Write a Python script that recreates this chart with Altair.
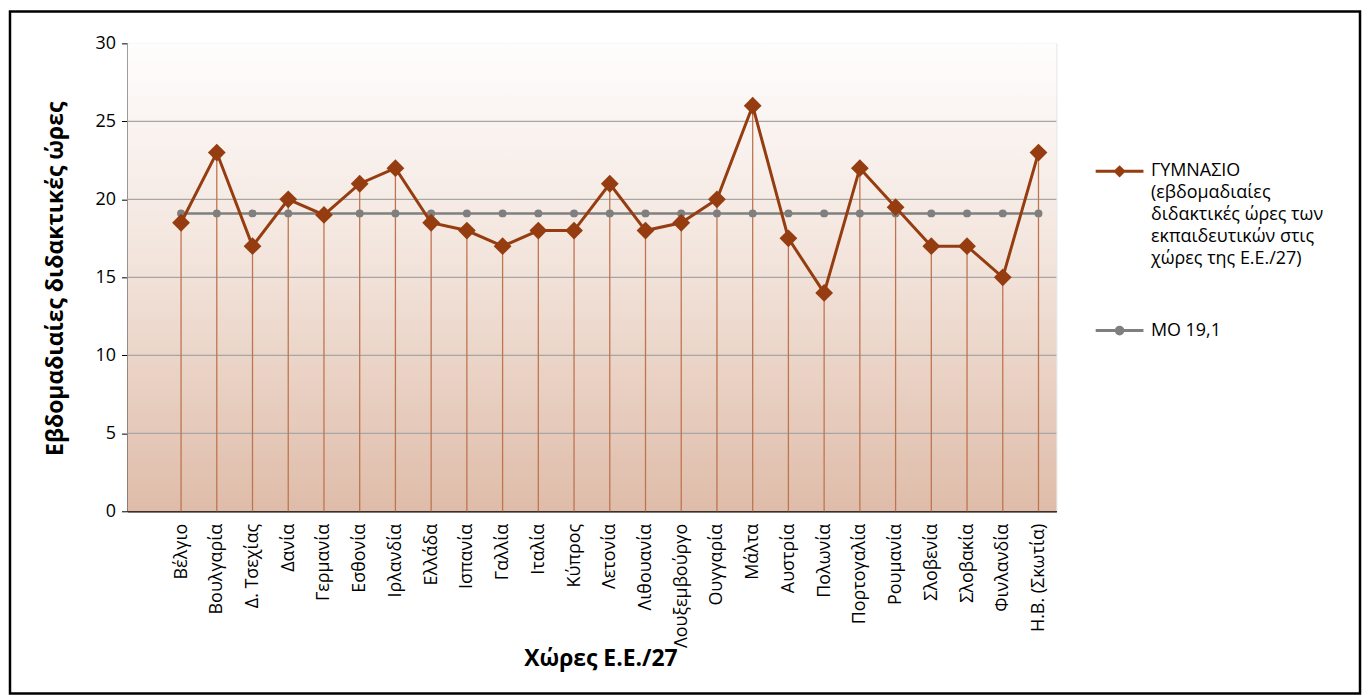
import altair as alt
import pandas as pd

countries = ["Βέλγιο", "Βουλγαρία", "Δ. Τσεχίας", "Δανία", "Γερμανία", "Εσθονία",
             "Ιρλανδία", "Ελλάδα", "Ισπανία", "Γαλλία", "Ιταλία", "Κύπρος", "Λετονία",
             "Λιθουανία", "Λουξεμβούργο", "Ουγγαρία", "Μάλτα", "Αυστρία", "Πολωνία",
             "Πορτογαλία", "Ρουμανία", "Σλοβενία", "Σλοβακία", "Φινλανδία", "Η.Β. (Σκωτία)"]
hours = [18.5, 23, 17, 20, 19, 21, 22, 18.5, 18, 17, 18, 18, 21,
         18, 18.5, 20, 26, 17.5, 14, 22, 19.5, 17, 17, 15, 23]
MO = 19.1
series_names = ["ΓΥΜΝΑΣΙΟ|(εβδομαδιαίες|διδακτικές ώρες των|εκπαιδευτικών στις|χώρες της Ε.Ε./27)",
                "ΜΟ 19,1"]
y_ticks = [0, 5, 10, 15, 20, 25, 30]
grid_vals = [5, 10, 15, 20, 25]

W, H = 933, 470
FONT = "Open Sans"
BROWN = "#953d10"
GRAY = "#7f7f7f"
DROP = "#bf7450"

df = pd.DataFrame({"country": countries, "hours": hours})
df["mo"] = MO

x_domain = [" "] + countries
xscale = alt.Scale(type="point", domain=x_domain, padding=0.5)
yscale = alt.Scale(domain=[0, 30], nice=False, zero=True)

xaxis = alt.Axis(labelAngle=-90, labelFont=FONT, labelFontSize=18, labelColor="#000",
                 labelPadding=12, ticks=False, domainColor="#000", domainWidth=1.5,
                 grid=False, titleFont=FONT, titleFontSize=23, titleFontWeight="bold",
                 titleColor="#000", titleX=475, titleY=148, titleBaseline="middle",
                 titleAlign="center", labelLimit=300)
yaxis = alt.Axis(values=y_ticks, labelFont=FONT, labelFontSize=18, labelColor="#000",
                 tickColor="#000", tickSize=6, domainColor="#000", domainWidth=1.5,
                 grid=False, labelPadding=6, titleFont=FONT, titleFontSize=23,
                 titleFontWeight="bold", titleColor="#000", titleX=-72, titleY=236,
                 titleBaseline="middle", titleAlign="center", titleAngle=-90)

XT = "Χώρες Ε.Ε./27"
YT = "Εβδομαδιαίες διδακτικές ώρες"


def xch():
    return alt.X("country:N", scale=xscale, sort=x_domain, axis=xaxis, title=XT)


def ych(field):
    return alt.Y(field, scale=yscale, axis=yaxis, title=YT)


one = alt.Data(values=[{}])

bg = alt.Chart(one).mark_rect(
    color=alt.LinearGradient(
        gradient="linear", x1=0, x2=0, y1=0, y2=1,
        stops=[alt.GradientStop(color="#fefdfd", offset=0),
               alt.GradientStop(color="#f3e5dd", offset=0.45),
               alt.GradientStop(color="#dfbca9", offset=1)])
).encode(x=alt.value(0), x2=alt.value(W), y=alt.value(0), y2=alt.value(H))

grid = alt.Chart(pd.DataFrame({"g": grid_vals})).mark_rule(
    color="#a6a6a6", strokeWidth=1.2
).encode(y=ych("g:Q"))

drops = alt.Chart(df).mark_rule(color=DROP, strokeWidth=1.3).encode(
    x=xch(), y=ych("hours:Q"), y2=alt.Y2(datum=0))

mo_line = alt.Chart(df).mark_line(color=GRAY, strokeWidth=2.5).encode(
    x=xch(), y=ych("mo:Q"))
mo_pts = alt.Chart(df).mark_point(shape="circle", filled=True, color=GRAY,
                                  opacity=1, size=64).encode(x=xch(), y=ych("mo:Q"))

h_line = alt.Chart(df).mark_line(color=BROWN, strokeWidth=3).encode(
    x=xch(), y=ych("hours:Q"))
h_pts = alt.Chart(df).mark_point(shape="diamond", filled=True, color=BROWN,
                                 opacity=1, size=320).encode(x=xch(), y=ych("hours:Q"))

diamond_path = "M-1,0L1,0M0,-0.17L0.17,0L0,0.17L-0.17,0Z"
circle_path = "M-1,0L1,0M0.14,0A0.14,0.14,0,1,1,-0.14,0A0.14,0.14,0,1,1,0.14,0Z"

leg = alt.Legend(orient="none", legendX=971, legendY=103, title=None,
                 labelExpr="split(datum.label, '|')", labelFont=FONT,
                 labelFontSize=18, labelColor="#000", labelLimit=400,
                 symbolSize=2304, symbolStrokeWidth=3, symbolOpacity=1,
                 labelOffset=6, rowPadding=37, labelBaseline="middle")

legend_df = pd.DataFrame({"series": series_names})
legend_layer = alt.Chart(legend_df).mark_point(filled=True, opacity=0).encode(
    shape=alt.Shape("series:N", scale=alt.Scale(domain=series_names,
                                                range=[diamond_path, circle_path]),
                    legend=leg),
    fill=alt.Fill("series:N", scale=alt.Scale(domain=series_names, range=[BROWN, GRAY]),
                  legend=leg),
    stroke=alt.Stroke("series:N", scale=alt.Scale(domain=series_names, range=[BROWN, GRAY]),
                      legend=leg),
)

border = alt.Chart(one).mark_rect(fill="#ffffff", fillOpacity=0, stroke="#000",
                                  strokeWidth=2.5).encode(
    x=alt.value(-118), x2=alt.value(1238), y=alt.value(-32), y2=alt.value(653))

chart = alt.layer(bg, grid, drops, mo_line, mo_pts, h_line, h_pts, legend_layer, border).properties(
    width=W, height=H, padding=0
).configure_view(stroke="#595959", strokeWidth=1.5).configure(
    style={"guide-label": {"lineHeight": 22}}
)

chart.save("out.html", embed_options={"renderer": "svg", "actions": False})
